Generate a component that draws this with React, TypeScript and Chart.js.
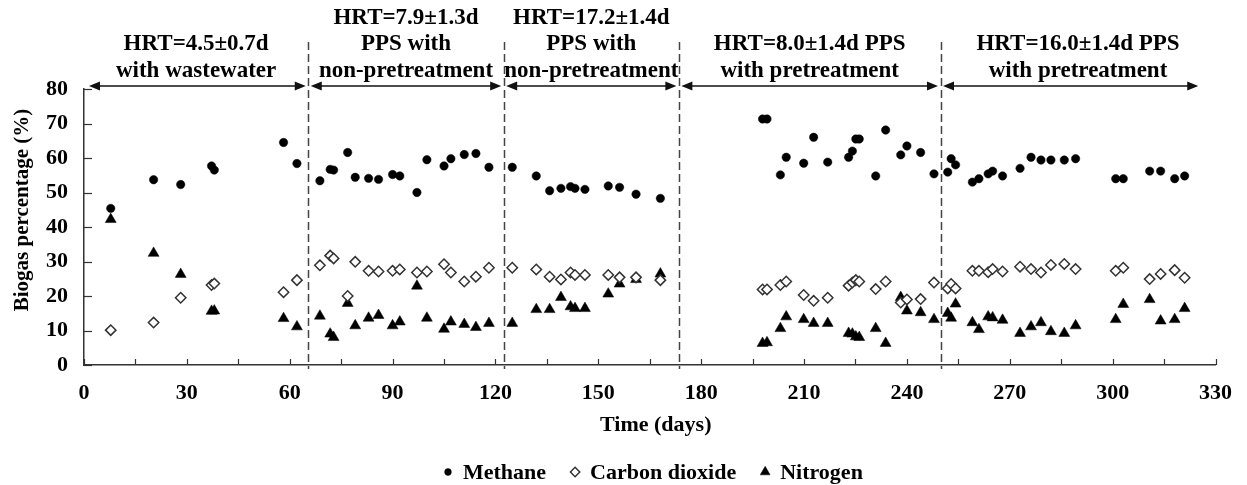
import React, { useEffect, useRef } from 'react';
import { Chart, registerables } from 'chart.js';
import { drawPoint } from 'chart.js/helpers';

Chart.register(...registerables);

// Sampling days (shared by all three gases)
const sampleDays = [
  7.8, 20.3, 28.2, 37.2, 38.0, 58.2, 62.1,
  68.8, 71.8, 72.8, 76.9, 79.1, 83.0, 85.9, 90.0, 92.1, 97.1, 100.0, 105.0, 107.0, 110.9, 114.3, 118.1,
  124.9, 131.9, 135.8, 139.1, 141.9, 143.2, 146.1, 152.9, 156.2, 161.0, 168.1,
  197.9, 199.2, 203.1, 204.8, 209.9, 212.8, 216.9, 223.0, 224.1, 225.1, 226.1, 230.9, 233.8, 238.2, 240.0, 244.0, 247.9,
  251.9, 252.9, 254.2, 259.1, 261.0, 263.7, 265.0, 267.9, 273.0, 276.2, 279.1, 282.0, 285.9, 289.2, 300.9, 303.1, 310.8, 314.0, 318.1, 321.0,
];

const methane = [
  45.4, 53.7, 52.3, 57.7, 56.5, 64.5, 58.4,
  53.4, 56.7, 56.5, 61.6, 54.4, 54.1, 53.8, 55.2, 54.8, 50.0, 59.5, 57.7, 59.8, 61.0, 61.3, 57.3,
  57.3, 54.8, 50.5, 51.2, 51.7, 51.2, 50.9, 51.9, 51.5, 49.5, 48.3,
  71.3, 71.3, 55.1, 60.2, 58.5, 66.0, 58.8, 60.2, 62.0, 65.5, 65.5, 54.8, 68.1, 60.9, 63.5, 61.6, 55.4,
  55.9, 59.8, 58.0, 53.0, 54.0, 55.4, 56.2, 54.8, 57.0, 60.2, 59.4, 59.4, 59.4, 59.8, 54.0, 54.0, 56.2, 56.2, 54.0, 54.8,
];

const carbonDioxide = [
  10.1, 12.3, 19.5, 23.2, 23.6, 21.1, 24.6,
  28.9, 31.7, 30.9, 20.0, 29.9, 27.3, 27.1, 27.3, 27.7, 26.8, 27.1, 29.2, 26.8, 24.2, 25.6, 28.2,
  28.2, 27.7, 25.6, 24.8, 26.8, 26.1, 26.1, 26.1, 25.4, 25.4, 24.6,
  21.9, 21.9, 23.2, 24.2, 20.3, 18.6, 19.5, 23.0, 23.9, 24.6, 24.2, 22.0, 24.2, 18.1, 19.0, 19.1, 23.9,
  22.2, 23.5, 22.2, 27.3, 27.3, 26.9, 27.8, 27.1, 28.5, 27.8, 26.8, 29.0, 29.3, 27.8, 27.3, 28.2, 24.9, 26.4, 27.5, 25.3,
];

const nitrogen = [
  42.2, 32.4, 26.3, 15.6, 15.7, 13.5, 11.1,
  14.2, 9.0, 8.0, 17.9, 11.4, 13.6, 14.4, 11.4, 12.5, 22.9, 13.6, 10.4, 12.5, 11.8, 10.9, 12.1,
  12.1, 16.1, 16.1, 19.6, 16.9, 16.4, 16.4, 20.6, 23.5, 24.8, 26.4,
  6.3, 6.5, 10.6, 14.0, 13.2, 12.1, 12.1, 9.2, 9.0, 8.2, 8.0, 10.6, 6.3, 19.6, 15.7, 15.2, 13.2,
  15.0, 13.6, 17.7, 12.3, 10.3, 14.0, 13.7, 13.0, 9.2, 11.1, 12.3, 9.7, 9.2, 11.4, 13.2, 17.6, 19.0, 12.8, 13.2, 16.4,
];

const seriesNames = ['Methane', 'Carbon dioxide', 'Nitrogen'];

// Operating phases: edges in days, last arrow stops short of the axis end
const phaseEdges = [0, 65.4, 122.4, 173.5, 249.8, 330];
const lastArrowEnd = 325.7;
const phaseLabels = [
  ['HRT=4.5±0.7d', 'with wastewater'],
  ['HRT=7.9±1.3d', 'PPS with', 'non-pretreatment'],
  ['HRT=17.2±1.4d', 'PPS with', 'non-pretreatment'],
  ['HRT=8.0±1.4d PPS', 'with pretreatment'],
  ['HRT=16.0±1.4d PPS', 'with pretreatment'],
];

const xMin = 0;
const xMax = 330;
const xStep = 15;
const xLabelStep = 30;
const yMin = 0;
const yMax = 80;
const yStep = 10;
const yTitle = 'Biogas percentage (%)';
const xTitle = 'Time (days)';

const SERIF = "'Liberation Serif', 'Times New Roman', serif";
const INK = '#000';
const AXIS = '#333';

const toPoints = (vals: number[]) => sampleDays.map((d, i) => ({ x: d, y: vals[i] }));

const overlayPlugin = {
  id: 'phaseOverlay',
  afterDraw(chart: any) {
    const { ctx, chartArea, scales } = chart;
    const xs = scales.x;
    const ys = scales.y;
    const line = (x1: number, y1: number, x2: number, y2: number) => {
      ctx.beginPath();
      ctx.moveTo(x1, y1);
      ctx.lineTo(x2, y2);
      ctx.stroke();
    };

    ctx.save();

    // inward tick marks
    ctx.strokeStyle = AXIS;
    ctx.lineWidth = 1.2;
    ys.ticks.forEach((t: any) => {
      const py = Math.round(ys.getPixelForValue(t.value)) + 0.5;
      line(chartArea.left, py, chartArea.left + 8, py);
    });
    xs.ticks.forEach((t: any) => {
      const px = Math.round(xs.getPixelForValue(t.value)) + 0.5;
      line(px, chartArea.bottom, px, chartArea.bottom - 6);
    });

    // dashed phase boundaries
    ctx.strokeStyle = '#444';
    ctx.lineWidth = 1.5;
    ctx.setLineDash([8, 4]);
    phaseEdges.slice(1, -1).forEach((d) => {
      const px = Math.round(xs.getPixelForValue(d)) + 0.5;
      line(px, 42, px, chartArea.bottom + 4);
    });
    ctx.setLineDash([]);

    // double-headed arrows spanning each phase
    const ay = chartArea.top - 3;
    ctx.strokeStyle = '#111';
    ctx.fillStyle = '#111';
    ctx.lineWidth = 1.5;
    const head = (tipX: number, dir: number) => {
      ctx.beginPath();
      ctx.moveTo(tipX, ay);
      ctx.lineTo(tipX + dir * 11, ay - 4.5);
      ctx.lineTo(tipX + dir * 11, ay + 4.5);
      ctx.closePath();
      ctx.fill();
    };
    for (let i = 0; i < phaseEdges.length - 1; i++) {
      const startDay = phaseEdges[i];
      const endDay = i === phaseEdges.length - 2 ? lastArrowEnd : phaseEdges[i + 1];
      const x1 = xs.getPixelForValue(startDay) + (i === 0 ? 5 : 2.5);
      const x2 = xs.getPixelForValue(endDay) - 2.5;
      line(x1 + 4, ay, x2 - 4, ay);
      head(x1, 1);
      head(x2, -1);
    }

    // phase descriptions, bottom-aligned above the arrows
    ctx.fillStyle = INK;
    ctx.font = `bold 23px ${SERIF}`;
    ctx.textAlign = 'center';
    ctx.textBaseline = 'middle';
    phaseLabels.forEach((lines, i) => {
      const cx = (xs.getPixelForValue(phaseEdges[i]) + xs.getPixelForValue(phaseEdges[i + 1])) / 2;
      const n = lines.length;
      lines.forEach((txt, k) => {
        ctx.fillText(txt, cx, 71 - (n - 1 - k) * 26.5);
      });
    });

    // axis titles
    ctx.font = `bold 21px ${SERIF}`;
    ctx.save();
    ctx.translate(23, 210);
    ctx.rotate(-Math.PI / 2);
    ctx.fillText(yTitle, 0, 0);
    ctx.restore();

    ctx.font = `bold 22px ${SERIF}`;
    ctx.fillText(xTitle, (chartArea.left + chartArea.right) / 2 + 6, 425);

    // legend row
    ctx.textAlign = 'left';
    let lx = 448;
    const ly = 473;
    chart.data.datasets.forEach((ds: any) => {
      ctx.fillStyle = ds.pointBackgroundColor;
      ctx.strokeStyle = ds.pointBorderColor;
      ctx.lineWidth = ds.pointBorderWidth;
      drawPoint(ctx, {
        pointStyle: ds.pointStyle,
        radius: ds.pointStyle === 'circle' ? 3.4 : ds.pointRadius * 0.9,
        rotation: 0,
        borderWidth: ds.pointBorderWidth,
      } as any, lx, ly - 1);
      ctx.fillStyle = INK;
      const tx = lx + 15;
      ctx.fillText(ds.label, tx, ly);
      lx = tx + ctx.measureText(ds.label).width + 29;
    });

    ctx.restore();
  },
};

export default function App() {
  const canvasRef = useRef<HTMLCanvasElement | null>(null);

  useEffect(() => {
    document.body.style.margin = '0';
    const canvas = canvasRef.current;
    if (!canvas) return;

    const tickFont = { family: SERIF, weight: 'bold' as const, size: 22 };

    const chart = new Chart(canvas, {
      type: 'scatter',
      data: {
        datasets: [
          {
            label: seriesNames[0],
            data: toPoints(methane),
            pointStyle: 'circle',
            pointRadius: 4.2,
            pointBackgroundColor: '#000',
            pointBorderColor: '#000',
            pointBorderWidth: 0.5,
          },
          {
            label: seriesNames[1],
            data: toPoints(carbonDioxide),
            pointStyle: 'rectRot',
            pointRadius: 5.2,
            pointBackgroundColor: '#fff',
            pointBorderColor: '#333',
            pointBorderWidth: 1.5,
          },
          {
            label: seriesNames[2],
            data: toPoints(nitrogen),
            pointStyle: 'triangle',
            pointRadius: 6.3,
            pointBackgroundColor: '#000',
            pointBorderColor: '#000',
            pointBorderWidth: 0.5,
          },
        ],
      },
      options: {
        animation: false,
        responsive: true,
        maintainAspectRatio: false,
        layout: { padding: { top: 89, right: 29, left: 0, bottom: 0 } },
        plugins: {
          legend: { display: false },
          tooltip: { enabled: false },
        },
        scales: {
          x: {
            type: 'linear',
            min: xMin,
            max: xMax,
            afterFit: (s: any) => { s.height = 120; },
            grid: { display: false, drawTicks: false },
            border: { display: true, color: AXIS, width: 1.5 },
            ticks: {
              stepSize: xStep,
              autoSkip: false,
              maxRotation: 0,
              padding: 15,
              color: INK,
              font: tickFont,
              callback: (v: any) => (Number(v) % xLabelStep === 0 ? String(v) : ''),
            },
          },
          y: {
            min: yMin,
            max: yMax,
            afterFit: (s: any) => { s.width = 84; },
            grid: { display: false, drawTicks: false },
            border: { display: true, color: AXIS, width: 1.5 },
            ticks: {
              stepSize: yStep,
              padding: 16,
              color: INK,
              font: tickFont,
            },
          },
        },
      },
      plugins: [overlayPlugin],
    });

    return () => chart.destroy();
  }, []);

  return (
    <div style={{ position: 'absolute', left: 0, top: 0, width: 1247, height: 485, background: '#fff' }}>
      <canvas ref={canvasRef} />
    </div>
  );
}
